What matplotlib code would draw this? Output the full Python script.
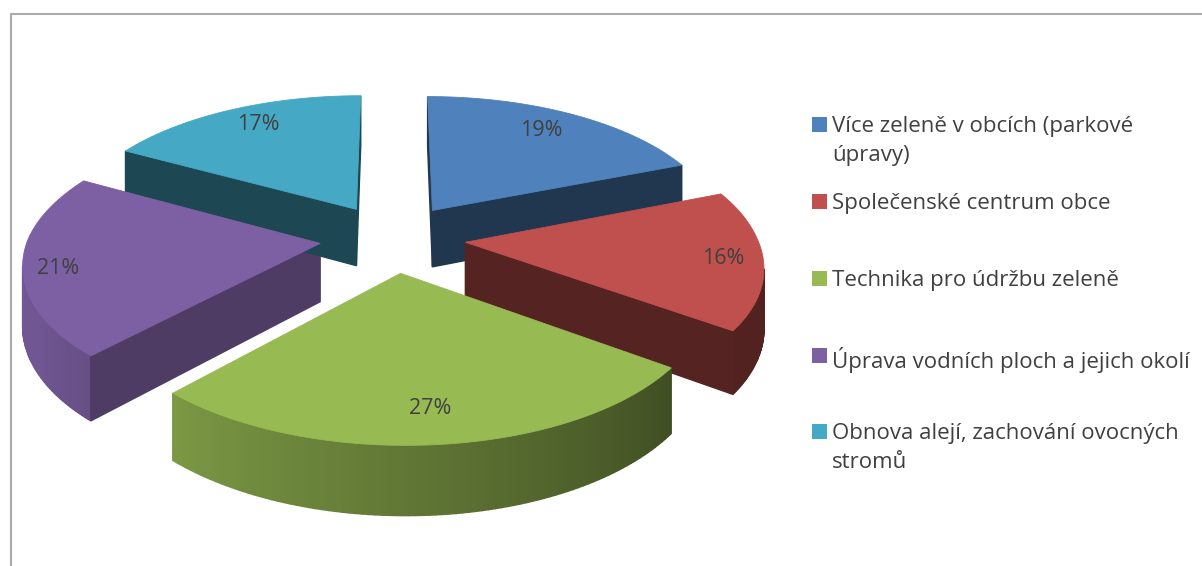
"""Exploded 3D-look pie chart drawn as projected polygons."""

import matplotlib
matplotlib.use("Agg")
import matplotlib.pyplot as plt
import numpy as np
from matplotlib.colors import to_rgb
from matplotlib.patches import Rectangle

labels = [
    "Více zeleně v obcích (parkové\núpravy)",
    "Společenské centrum obce",
    "Technika pro údržbu zeleně",
    "Úprava vodních ploch a jejich okolí",
    "Obnova alejí, zachování ovocných\nstromů",
]
shares = [19, 16, 27, 21, 17]
colors = ["#4F81BD", "#C0504D", "#97BA53", "#7D60A3", "#45A8C4"]
face_shade = [0.42, 0.44, 0.45, 0.62, 0.42]

WIDTH, HEIGHT = 1202, 566
CX, CY = 392.5, 238
RX, RY = 292, 137
PERSP = 0.14
SKEW = 4
EXPLODE = 0.25
DEPTH = 58

pct_xy = [(541, 130), (723, 259), (430, 409), (58, 268), (258, 124)]
legend_y = [124, 201, 278, 355, 431]


def project(x, y):
    s = 1.0 / (1.0 + PERSP * y)
    return CX + RX * x * s + SKEW * max(-y, 0.0), CY - RY * y * s, DEPTH * s


def arc_shade(theta):
    # lit from the left, rim gets darker towards the right
    return float(np.clip(0.42 + (theta - 126.0) / 97.0 * 0.40, 0.42, 0.90))


def shaded(color, k):
    return tuple(c * k for c in to_rgb(color))


def wall(ax, p0, p1, color):
    # only walls running right to left on screen face the viewer
    if p1[0] >= p0[0]:
        return
    xs = [p0[0], p1[0], p1[0], p0[0]]
    ys = [p0[1], p1[1], p1[1] + p1[2], p0[1] + p0[2]]
    ax.fill(xs, ys, color=color, linewidth=1.0, zorder=2)


def draw_slice(ax, start, sweep, color, face_k):
    mid = np.radians(start + sweep / 2.0)
    ox, oy = EXPLODE * np.sin(mid), EXPLODE * np.cos(mid)
    thetas = np.linspace(start, start + sweep, 90)
    rim = [project(ox + np.sin(t), oy + np.cos(t)) for t in np.radians(thetas)]
    apex = project(ox, oy)

    for i in range(len(rim) - 1):
        wall(ax, rim[i], rim[i + 1], shaded(color, arc_shade(thetas[i])))
    wall(ax, apex, rim[0], shaded(color, face_k))
    wall(ax, rim[-1], apex, shaded(color, face_k))

    outline = [apex] + rim
    ax.fill([p[0] for p in outline], [p[1] for p in outline], color=color, linewidth=0.6, zorder=3)


def main():
    plt.rcParams["font.family"] = ["Open Sans", "DejaVu Sans"]
    fig = plt.figure(figsize=(WIDTH / 100, HEIGHT / 100), dpi=100)
    ax = fig.add_axes([0, 0, 1, 1])
    ax.set_xlim(0, WIDTH)
    ax.set_ylim(HEIGHT, 0)
    ax.axis("off")

    # chart frame, cut off at the right and bottom of the picture
    ax.plot([10.5, 10.5, WIDTH], [HEIGHT, 14, 14], color="#ABABAB", linewidth=1.5, zorder=1)

    start = 0.0
    total = sum(shares)
    for share, color, face_k in zip(shares, colors, face_shade):
        sweep = 360.0 * share / total
        draw_slice(ax, start, sweep, color, face_k)
        start += sweep

    for share, (x, y) in zip(shares, pct_xy):
        ax.text(x, y, f"{share}%", ha="center", va="center", fontsize=15.5, color="#404040", zorder=5)

    for label, color, y in zip(labels, colors, legend_y):
        ax.add_patch(Rectangle((812, y - 7.5), 14.5, 15, facecolor=color, edgecolor="none", zorder=4))
        ax.text(832, y - 8, label, ha="left", va="top", fontsize=16, color="#404040",
                linespacing=1.5, zorder=5)

    fig.savefig("out.png", dpi=100)
    plt.close(fig)


if __name__ == "__main__":
    main()
